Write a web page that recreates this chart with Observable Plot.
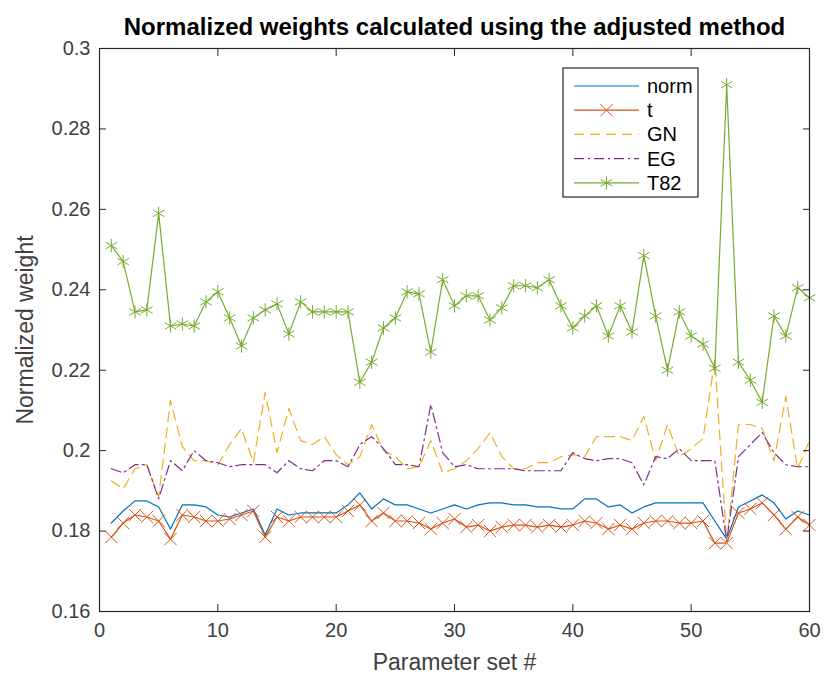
<!DOCTYPE html>
<html><head><meta charset="utf-8">
<script src="https://cdn.jsdelivr.net/npm/d3@7"></script>
<script src="https://cdn.jsdelivr.net/npm/@observablehq/plot@0.6"></script>
<style>
body{margin:0;background:#fff;}
#wrap{position:relative;width:825px;height:675px;}
#legend{position:absolute;left:0;top:0;}
</style></head><body><div id="wrap"></div>
<script>
const paramSet = [1,2,3,4,5,6,7,8,9,10,11,12,13,14,15,16,17,18,19,20,21,22,23,24,25,26,27,28,29,30,31,32,33,34,35,36,37,38,39,40,41,42,43,44,45,46,47,48,49,50,51,52,53,54,55,56,57,58,59,60];
const norm = [0.182,0.185,0.1875,0.1875,0.186,0.1805,0.1865,0.1865,0.186,0.184,0.1835,0.1845,0.1855,0.179,0.1855,0.184,0.1845,0.1845,0.1845,0.1845,0.1865,0.1895,0.1855,0.188,0.1865,0.1865,0.1855,0.1845,0.1855,0.1865,0.1855,0.1865,0.187,0.187,0.1865,0.1865,0.186,0.186,0.1855,0.1855,0.188,0.188,0.186,0.1865,0.1845,0.186,0.187,0.187,0.187,0.187,0.187,0.1825,0.178,0.186,0.1875,0.189,0.187,0.183,0.185,0.184];
const tDist = [0.1785,0.182,0.184,0.1835,0.1825,0.178,0.184,0.1835,0.1825,0.1825,0.183,0.184,0.185,0.1785,0.1835,0.1825,0.1835,0.1835,0.1835,0.1835,0.185,0.1865,0.1825,0.1845,0.1825,0.1825,0.182,0.1805,0.182,0.183,0.181,0.1815,0.18,0.181,0.1815,0.1815,0.181,0.1815,0.181,0.1815,0.1825,0.182,0.1805,0.1815,0.1805,0.182,0.1825,0.1825,0.182,0.182,0.1825,0.177,0.177,0.1845,0.1855,0.187,0.184,0.1805,0.1835,0.1815];
const GN = [0.1925,0.1905,0.1955,0.1965,0.1885,0.2125,0.201,0.1975,0.1975,0.1965,0.2015,0.2055,0.197,0.2145,0.1995,0.2105,0.2025,0.2015,0.2035,0.199,0.1965,0.1985,0.2065,0.2,0.1985,0.1955,0.196,0.2025,0.1945,0.1955,0.1975,0.2005,0.2045,0.1985,0.1955,0.1955,0.197,0.197,0.1985,0.199,0.1985,0.2035,0.2035,0.2035,0.2025,0.2085,0.1975,0.2065,0.1985,0.2005,0.203,0.2225,0.177,0.2065,0.2065,0.2055,0.1975,0.2135,0.1955,0.2025];
const EG = [0.1955,0.1945,0.1965,0.1965,0.188,0.1975,0.195,0.2,0.1975,0.197,0.196,0.1965,0.1965,0.1965,0.1945,0.1975,0.1955,0.195,0.1975,0.1975,0.196,0.2015,0.2035,0.2005,0.1965,0.1965,0.196,0.2115,0.1995,0.196,0.1965,0.1955,0.1955,0.1955,0.1955,0.195,0.195,0.195,0.195,0.1995,0.198,0.1975,0.198,0.198,0.197,0.1915,0.1985,0.198,0.2005,0.1975,0.1975,0.1975,0.1775,0.1985,0.2015,0.2045,0.1995,0.1965,0.196,0.196];
const T82 = [0.251,0.247,0.2345,0.235,0.259,0.231,0.2315,0.231,0.237,0.2395,0.233,0.226,0.233,0.235,0.2365,0.229,0.237,0.2345,0.2345,0.2345,0.2345,0.217,0.222,0.2305,0.233,0.2395,0.239,0.2245,0.2425,0.236,0.2385,0.2385,0.2325,0.2355,0.241,0.241,0.2405,0.2425,0.236,0.2305,0.2335,0.236,0.2285,0.236,0.2295,0.2485,0.2335,0.22,0.2345,0.2285,0.2265,0.2205,0.291,0.222,0.2175,0.212,0.2335,0.2285,0.2405,0.238];

const seriesNames = ["norm","t","GN","EG","T82"];
const seriesValues = [norm, tDist, GN, EG, T82];
const seriesColors = ["#0072BD","#D95319","#EDB120","#7E2F8E","#77AC30"];
const seriesDash = [null, null, "10,6", "10,4,2,4", null];
const seriesSymbol = [null, "times", null, null, "asterisk"];
const xTicks = [0,10,20,30,40,50,60];
const yTicks = [0.16,0.18,0.2,0.22,0.24,0.26,0.28,0.3];
const titleText = "Normalized weights calculated using the adjusted method";
const xLabel = "Parameter set #";
const yLabel = "Normalized weight";

const series = seriesNames.map((name, i) => ({
  name, color: seriesColors[i], dash: seriesDash[i], symbol: seriesSymbol[i],
  rows: paramSet.map((p, j) => ({x: p, y: seriesValues[i][j], series: name}))
}));

const font = "'Liberation Sans', Arial, Helvetica, sans-serif";
const axisColor = "#262626";
const fmt = d => String(+d.toFixed(2));

const marks = [];
for (const s of series) {
  marks.push(Plot.line(s.rows, {x: "x", y: "y", stroke: s.color, strokeWidth: 1.2, strokeDasharray: s.dash}));
  if (s.symbol) marks.push(Plot.dot(s.rows, {x: "x", y: "y", stroke: s.color, strokeWidth: 1, symbol: s.symbol, r: s.symbol === "asterisk" ? 6.3 : 5.6}));
}

const plot = Plot.plot({
  width: 825, height: 675,
  marginLeft: 99, marginRight: 16, marginTop: 48, marginBottom: 64,
  style: {fontFamily: font, fontSize: "20px", color: "#404040", background: "#fff"},
  x: {domain: [0, 60]},
  y: {domain: [0.16, 0.3]},
  marks: [
    ...marks,
    Plot.frame({stroke: axisColor, strokeWidth: 1.2}),
    Plot.axisX({anchor: "bottom", ticks: xTicks, tickSize: -7, tickPadding: 18, tickFormat: fmt, label: null, stroke: axisColor}),
    Plot.axisX({anchor: "top", ticks: xTicks, tickSize: -7, tickFormat: () => "", label: null, stroke: axisColor}),
    Plot.axisY({anchor: "left", ticks: yTicks, tickSize: -7, tickPadding: 16, tickFormat: fmt, label: null, stroke: axisColor}),
    Plot.axisY({anchor: "right", ticks: yTicks, tickSize: -7, tickFormat: () => "", label: null, stroke: axisColor}),
    Plot.text([titleText], {frameAnchor: "top", lineAnchor: "middle", dy: -21, fontWeight: "bold", fontSize: 24, fill: "#000"}),
    Plot.text([xLabel], {frameAnchor: "bottom", lineAnchor: "middle", dy: 51, fontSize: 23, fill: "#404040"}),
    Plot.text([yLabel], {frameAnchor: "left", textAnchor: "middle", lineAnchor: "middle", dx: -74, rotate: -90, fontSize: 23, fill: "#404040"})
  ]
});
const wrap = document.getElementById("wrap");
wrap.appendChild(plot);

// legend overlay
const L = {x: 563, y: 68, w: 135, h: 129, row0: 18, rowGap: 24.2, lx0: 11, lx1: 76, tx: 84};
const svg = d3.select(wrap).append("svg").attr("id", "legend").attr("width", 825).attr("height", 675)
  .style("font-family", font).style("font-size", "20px");
svg.append("rect").attr("x", L.x).attr("y", L.y).attr("width", L.w).attr("height", L.h)
  .attr("fill", "#fff").attr("stroke", axisColor).attr("stroke-width", 1.2);
series.forEach((s, i) => {
  const yy = L.y + L.row0 + i * L.rowGap;
  const g = svg.append("g");
  g.append("line").attr("x1", L.x + L.lx0).attr("x2", L.x + L.lx1).attr("y1", yy).attr("y2", yy)
    .attr("stroke", s.color).attr("stroke-width", 1.2).attr("stroke-dasharray", s.dash);
  if (s.symbol) {
    const sym = s.symbol === "asterisk" ? d3.symbolAsterisk : d3.symbolTimes;
    const r = s.symbol === "asterisk" ? 6.3 : 5.6;
    g.append("path").attr("d", d3.symbol(sym, Math.PI * r * r)())
      .attr("transform", `translate(${L.x + (L.lx0 + L.lx1) / 2},${yy})`)
      .attr("fill", "none").attr("stroke", s.color).attr("stroke-width", 1);
  }
  g.append("text").attr("x", L.x + L.tx).attr("y", yy).attr("dy", "0.35em").attr("fill", "#000").text(s.name);
});
</script></body></html>
